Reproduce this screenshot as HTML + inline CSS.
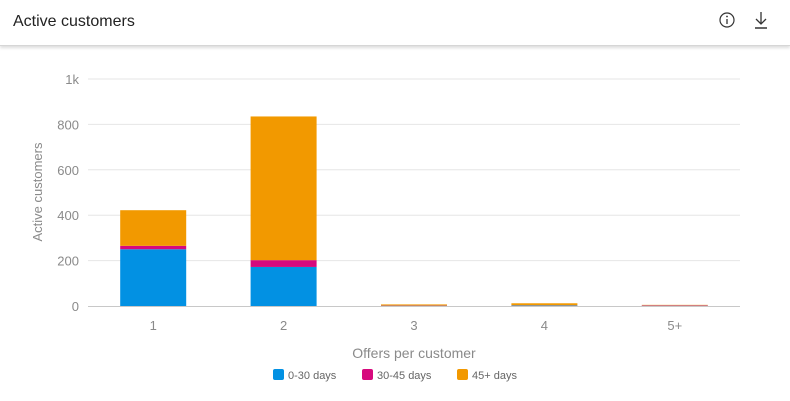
<!DOCTYPE html>
<html><head><meta charset="utf-8"><style>
body{margin:0;width:790px;height:401px;background:#fff;font-family:"Liberation Sans",sans-serif;overflow:hidden;position:relative}
.hdr{position:absolute;left:0;top:0;width:790px;height:45px;border-bottom:1px solid #d6d6d6;box-shadow:0 2px 3px #ddd}
.title{position:absolute;left:13px;top:13px;font-size:16px;color:#222}
</style></head><body>
<div class="hdr">
<div class="title">Active customers</div>
<svg style="position:absolute;left:718px;top:10px" width="20" height="20"><circle cx="9" cy="10" r="7" fill="none" stroke="#333" stroke-width="1.2"/><line x1="9" y1="9" x2="9" y2="14" stroke="#333" stroke-width="1.3"/><circle cx="9" cy="6.5" r="0.9" fill="#333"/></svg>
<svg style="position:absolute;left:752px;top:10px" width="18" height="20"><line x1="9" y1="2" x2="9" y2="13" stroke="#333" stroke-width="1.3"/><polyline points="4,9 9,14 14,9" fill="none" stroke="#333" stroke-width="1.3"/><line x1="3" y1="18" x2="15" y2="18" stroke="#333" stroke-width="1.5"/></svg>
</div>
<svg id="chart" width="790" height="401" style="position:absolute;left:0;top:0"></svg>
<script>
const categories=["1","2","3","4","5+"];
const s0_30=[250,172,1,2,1];
const s30_45=[15,30,1,1,2];
const s45p=[157,633,5,9,2];
const yTicks=[0,200,400,600,800,1000];
const yTickLabels=["0","200","400","600","800","1k"];
const seriesNames=["0-30 days","30-45 days","45+ days"];
const colors=["#0291e3","#d6097d","#f29900"];
const svg=document.getElementById('chart');const NS="http://www.w3.org/2000/svg";
function mk(t,a,p){const e=document.createElementNS(NS,t);for(const k in a)e.setAttribute(k,a[k]);(p||svg).appendChild(e);return e;}
const x0=88,x1=740,y0=306,yTop=79;
const y=v=>y0-(v/1000)*(y0-yTop);
const bw=(x1-x0)/categories.length;
const xc=i=>x0+bw*(i+0.5);
yTicks.forEach((t,i)=>{
 if(t>0){const g=mk('line',{x1:x0,x2:x1,y1:y(t),y2:y(t),stroke:'#e6e6e6'});}
 const l=mk('text',{x:79,y:y(t)+5,'text-anchor':'end','font-size':13,fill:'#8a8a8a'});l.textContent=yTickLabels[i];
 
});
const series=[s0_30,s30_45,s45p];
categories.forEach((c,i)=>{
 let base=0;
 series.forEach((s,k)=>{
  const r=mk('rect',{x:xc(i)-33,width:66,y:y(base+s[i]),height:y(base)-y(base+s[i]),fill:colors[k]});
  
  
  base+=s[i];
 });
 const t=mk('text',{x:xc(i),y:330,'text-anchor':'middle','font-size':13,fill:'#8a8a8a'});t.textContent=c;
 
});
const ax=mk('line',{x1:x0,x2:x1,y1:y0+0.5,y2:y0+0.5,stroke:'#c8c8c8'});

const yt=mk('text',{x:0,y:0,'text-anchor':'middle','font-size':13,fill:'#8a8a8a',transform:'translate(42,192) rotate(-90)'});yt.textContent='Active customers';

const xt=mk('text',{x:414,y:358,'text-anchor':'middle','font-size':14,fill:'#8a8a8a'});xt.textContent='Offers per customer';

const lx=[273,362,457];
seriesNames.forEach((n,k)=>{
 const g=mk('g',{});
 mk('rect',{x:lx[k],y:369,width:11,height:11,rx:2,fill:colors[k]},g);
 const t=mk('text',{x:lx[k]+15,y:379,'font-size':11,fill:'#666'},g);t.textContent=n;
});
</script>
</body></html>
